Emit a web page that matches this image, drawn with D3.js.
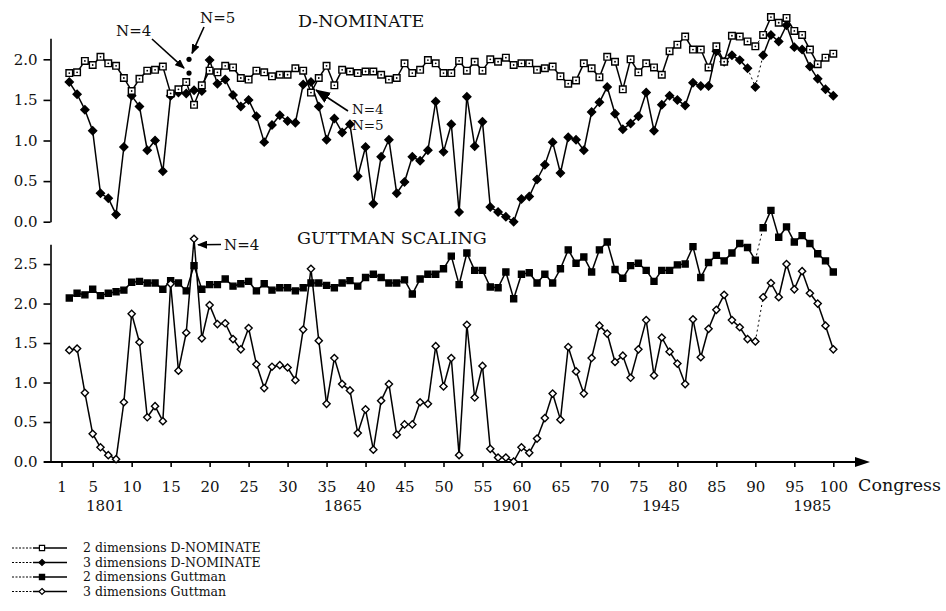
<!DOCTYPE html>
<html>
<head>
<meta charset="utf-8">
<script src="https://cdn.jsdelivr.net/npm/d3@7"></script>
<style>
  body { margin: 0; background: #fff; }
  svg text { font-family: "DejaVu Serif", serif; fill: #111; }
</style>
</head>
<body>
<div id="chart"></div>
<script>
// congresses with a score (one point per congress)
var congress = d3.range(2, 101);

var dnom2 = [1.83, 1.84, 1.98, 1.93, 2.03, 1.95, 1.92, 1.77, 1.61, 1.76,
  1.86, 1.87, 1.91, 1.58, 1.63, 1.72, 1.44, 1.68, 1.86, 1.84,
  1.92, 1.90, 1.77, 1.75, 1.86, 1.84, 1.79, 1.81, 1.81, 1.89,
  1.86, 1.59, 1.77, 1.92, 1.68, 1.87, 1.85, 1.83, 1.85, 1.85,
  1.81, 1.75, 1.77, 1.95, 1.83, 1.87, 1.99, 1.95, 1.83, 1.83,
  1.98, 1.86, 1.97, 1.86, 2.00, 1.97, 2.02, 1.93, 1.95, 1.95,
  1.87, 1.89, 1.91, 1.79, 1.70, 1.74, 1.95, 1.89, 1.78, 2.03,
  1.97, 1.63, 2.00, 1.84, 1.95, 1.90, 1.81, 2.10, 2.18, 2.28,
  2.12, 2.12, 1.90, 2.16, 1.97, 2.29, 2.28, 2.22, 2.16, 2.30,
  2.52, 2.45, 2.51, 2.35, 2.30, 2.12, 1.94, 2.02, 2.07];

var dnom3 = [1.72, 1.57, 1.38, 1.12, 0.35, 0.29, 0.09, 0.92, 1.55, 1.42,
  0.88, 1.00, 0.62, 1.55, 1.59, 1.58, 1.62, 1.61, 1.99, 1.70,
  1.75, 1.56, 1.42, 1.50, 1.30, 0.98, 1.19, 1.31, 1.24, 1.22,
  1.69, 1.72, 1.42, 1.01, 1.27, 1.10, 1.20, 0.56, 0.92, 0.22,
  0.80, 1.01, 0.35, 0.49, 0.80, 0.75, 0.88, 1.48, 0.86, 1.20,
  0.12, 1.54, 0.93, 1.23, 0.18, 0.12, 0.06, 0.00, 0.28, 0.31,
  0.52, 0.70, 0.98, 0.60, 1.04, 1.01, 0.88, 1.35, 1.47, 1.66,
  1.33, 1.14, 1.21, 1.30, 1.59, 1.12, 1.44, 1.55, 1.50, 1.43,
  1.71, 1.67, 1.67, 2.10, 1.97, 2.05, 1.99, 1.89, 1.66, 2.05,
  2.30, 2.22, 2.42, 2.15, 2.12, 1.91, 1.76, 1.63, 1.55];

var gutt2 = [2.07, 2.13, 2.11, 2.18, 2.10, 2.13, 2.15, 2.17, 2.27, 2.28,
  2.26, 2.26, 2.18, 2.29, 2.26, 2.16, 2.48, 2.18, 2.24, 2.24,
  2.31, 2.22, 2.25, 2.28, 2.16, 2.25, 2.17, 2.20, 2.20, 2.16,
  2.20, 2.26, 2.26, 2.23, 2.20, 2.26, 2.29, 2.22, 2.33, 2.37,
  2.33, 2.26, 2.26, 2.30, 2.12, 2.31, 2.37, 2.37, 2.44, 2.60,
  2.24, 2.64, 2.42, 2.42, 2.21, 2.20, 2.40, 2.06, 2.37, 2.39,
  2.26, 2.37, 2.26, 2.44, 2.68, 2.51, 2.59, 2.40, 2.68, 2.78,
  2.43, 2.32, 2.48, 2.51, 2.42, 2.28, 2.42, 2.42, 2.49, 2.50,
  2.72, 2.33, 2.52, 2.61, 2.54, 2.64, 2.76, 2.71, 2.55, 2.96,
  3.18, 2.84, 2.97, 2.78, 2.86, 2.76, 2.63, 2.54, 2.40];

var gutt3 = [1.41, 1.43, 0.87, 0.35, 0.18, 0.08, 0.03, 0.75, 1.87, 1.51,
  0.56, 0.70, 0.51, 2.25, 1.15, 1.63, 2.82, 1.56, 1.98, 1.74,
  1.75, 1.55, 1.42, 1.69, 1.23, 0.93, 1.20, 1.22, 1.19, 1.03,
  1.67, 2.44, 1.53, 0.73, 1.31, 0.98, 0.90, 0.36, 0.66, 0.15,
  0.77, 0.98, 0.34, 0.47, 0.47, 0.75, 0.73, 1.46, 0.95, 1.31,
  0.08, 1.73, 0.81, 1.21, 0.16, 0.05, 0.05, 0.00, 0.18, 0.11,
  0.29, 0.55, 0.86, 0.53, 1.45, 1.14, 0.86, 1.31, 1.72, 1.62,
  1.26, 1.34, 1.06, 1.42, 1.79, 1.09, 1.57, 1.39, 1.24, 0.98,
  1.80, 1.32, 1.68, 1.92, 2.11, 1.79, 1.70, 1.55, 1.52, 2.08,
  2.26, 2.08, 2.50, 2.18, 2.41, 2.13, 2.00, 1.72, 1.42];

// the single points marked N=4 / N=5 in the top panel
var extraCongress = [18, 18];
var extraValues = [1.83, 2.00];

// segments drawn broken (start congress of the segment)
var dashedTop = [89, 90];
var dashedBottom = [90];

var xTicks = [1, 5, 10, 15, 20, 25, 30, 35, 40, 45, 50, 55, 60, 65, 70, 75, 80, 85, 90, 95, 100];
var yTicksTop = [0, 0.5, 1, 1.5, 2];
var yTicksBottom = [0, 0.5, 1, 1.5, 2, 2.5];
var years = ["1801", "1865", "1901", "1945", "1985"];
var yearAt = [6.6, 37.1, 58.7, 77.9, 97.3];

var legendLabels = ["2 dimensions D-NOMINATE", "3 dimensions D-NOMINATE",
  "2 dimensions Guttman", "3 dimensions Guttman"];

var width = 946, height = 611;

var svg = d3.select("#chart").append("svg")
  .attr("width", width)
  .attr("height", height);

var defs = svg.append("defs");
defs.append("marker")
  .attr("id", "axisArrow")
  .attr("markerUnits", "userSpaceOnUse")
  .attr("markerWidth", 15).attr("markerHeight", 10)
  .attr("refX", 1).attr("refY", 5)
  .attr("orient", "auto")
  .append("path").attr("d", "M0,0 L15,5 L0,10 Z").attr("fill", "#000");
defs.append("marker")
  .attr("id", "tip")
  .attr("markerUnits", "userSpaceOnUse")
  .attr("markerWidth", 10).attr("markerHeight", 8)
  .attr("refX", 9).attr("refY", 4)
  .attr("orient", "auto")
  .append("path").attr("d", "M0,0 L10,4 L0,8 Z").attr("fill", "#000");
defs.append("marker")
  .attr("id", "bigTip")
  .attr("markerUnits", "userSpaceOnUse")
  .attr("markerWidth", 15).attr("markerHeight", 12)
  .attr("refX", 14).attr("refY", 6)
  .attr("orient", "auto")
  .append("path").attr("d", "M0,0 L15,6 L0,12 Z").attr("fill", "#000");

var x = d3.scaleLinear().domain([1, 100]).range([61.5, 833.3]);
var yTop = d3.scaleLinear().domain([0, 2.26]).range([221.7, 38.2]);
var yBottom = d3.scaleLinear().domain([0, 2.75]).range([461.5, 244.3]);

function styleAxis(g, size) {
  g.attr("font-family", "DejaVu Serif").attr("font-size", size);
  g.selectAll("line, path").attr("stroke", "#000").attr("stroke-width", 1.6);
  g.selectAll("text").attr("fill", "#111");
}

// y axes
svg.append("g")
  .attr("transform", "translate(50.5,0)")
  .call(d3.axisLeft(yTop).tickValues(yTicksTop).tickFormat(d3.format(".1f"))
    .tickSize(7).tickSizeOuter(0).tickPadding(6))
  .call(styleAxis, 15);

svg.append("g")
  .attr("transform", "translate(50.5,0)")
  .call(d3.axisLeft(yBottom).tickValues(yTicksBottom).tickFormat(d3.format(".1f"))
    .tickSize(7).tickSizeOuter(0).tickPadding(6))
  .call(styleAxis, 15);

// x axis with arrow
var xAxisY = 462;
var xAxis = svg.append("g")
  .attr("transform", "translate(0," + xAxisY + ")")
  .call(d3.axisBottom(x).tickValues(xTicks).tickSize(5).tickSizeOuter(0))
  .call(styleAxis, 15);
xAxis.select(".domain").remove();
xAxis.selectAll("text").attr("y", 19);

svg.append("line")
  .attr("x1", 44).attr("x2", 856)
  .attr("y1", xAxisY).attr("y2", xAxisY)
  .attr("stroke", "#000").attr("stroke-width", 1.8)
  .attr("marker-end", "url(#axisArrow)");

svg.append("text")
  .attr("x", 858).attr("y", 491)
  .attr("font-size", 17.5)
  .text("Congress");

svg.append("g").selectAll("text")
  .data(years)
  .enter()
  .append("text")
  .attr("x", function(d, i) { return x(yearAt[i]); })
  .attr("y", 511)
  .attr("text-anchor", "middle")
  .attr("font-size", 15)
  .text(function(d) { return d; });

// panel titles
svg.append("text").attr("x", 298).attr("y", 27).attr("font-size", 17.5).text("D-NOMINATE");
svg.append("text").attr("x", 297).attr("y", 243.5).attr("font-size", 17.5).text("GUTTMAN SCALING");

function markPath(shape, r) {
  if (shape === "diamond") {
    return "M0," + (-r) + "L" + r + ",0L0," + r + "L" + (-r) + ",0Z";
  }
  return "M" + (-r) + "," + (-r) + "H" + r + "V" + r + "H" + (-r) + "Z";
}

function drawSeries(values, y, shape, filled, r, dashed) {
  var pts = values.map(function(v, i) {
    return { c: congress[i], px: x(congress[i]), py: y(v) };
  });
  var g = svg.append("g");
  g.selectAll("line")
    .data(d3.pairs(pts))
    .enter()
    .append("line")
    .attr("x1", function(d) { return d[0].px; })
    .attr("y1", function(d) { return d[0].py; })
    .attr("x2", function(d) { return d[1].px; })
    .attr("y2", function(d) { return d[1].py; })
    .attr("stroke", "#000")
    .attr("stroke-width", function(d) { return dashed.indexOf(d[0].c) >= 0 ? 1 : 1.5; })
    .attr("stroke-dasharray", function(d) { return dashed.indexOf(d[0].c) >= 0 ? "2,3" : null; });
  g.selectAll("path")
    .data(pts)
    .enter()
    .append("path")
    .attr("transform", function(d) { return "translate(" + d.px + "," + d.py + ")"; })
    .attr("d", markPath(shape, r))
    .attr("fill", filled ? "#000" : "#fff")
    .attr("stroke", "#000")
    .attr("stroke-width", 1.4);
  if (!filled && shape === "square") {
    g.selectAll("circle")
      .data(pts)
      .enter()
      .append("circle")
      .attr("cx", function(d) { return d.px; })
      .attr("cy", function(d) { return d.py; })
      .attr("r", 0.9)
      .attr("fill", "#000");
  }
}

drawSeries(dnom3, yTop, "diamond", true, 4, dashedTop);
drawSeries(dnom2, yTop, "square", false, 3.3, dashedTop);
drawSeries(gutt2, yBottom, "square", true, 3, dashedBottom);
drawSeries(gutt3, yBottom, "diamond", false, 3.6, dashedBottom);

svg.append("g").selectAll("circle")
  .data(extraValues)
  .enter()
  .append("circle")
  .attr("cx", function(d, i) { return x(extraCongress[i]) - 5; })
  .attr("cy", function(d) { return yTop(d); })
  .attr("r", 2.6)
  .attr("fill", "#000");

// annotations
function note(txt, tx, ty, size) {
  svg.append("text").attr("x", tx).attr("y", ty).attr("font-size", size || 15).text(txt);
}
function arrow(x1, y1, x2, y2, head) {
  svg.append("line")
    .attr("x1", x1).attr("y1", y1).attr("x2", x2).attr("y2", y2)
    .attr("stroke", "#000").attr("stroke-width", 1.6)
    .attr("marker-end", "url(#" + head + ")");
}

var nx = x(extraCongress[0]) - 5;
note("N=4", 116, 35.5);
arrow(152, 39, nx - 5, yTop(extraValues[0]) - 5, "tip");
note("N=5", 200, 23);
arrow(204, 27, nx + 3, yTop(extraValues[1]) - 6, "tip");

note("N=4", 352, 113.5, 13.5);
note("N=5", 352, 129.5, 13.5);
arrow(348, 111, 316, 90, "bigTip");

note("N=4", 224, 250);
arrow(221, 244.5, x(18) + 4, yBottom(gutt3[16]) + 6, "tip");

// legend
var legendShapes = ["square", "diamond", "square", "diamond"];
var legendFilled = [false, true, true, false];
var legendRows = [548, 562.5, 577, 591.5];
var legend = svg.append("g");
legendLabels.forEach(function(label, i) {
  var ly = legendRows[i];
  legend.append("line").attr("x1", 12).attr("x2", 33).attr("y1", ly).attr("y2", ly)
    .attr("stroke", "#000").attr("stroke-width", 1).attr("stroke-dasharray", "2,1.5");
  legend.append("line").attr("x1", 33).attr("x2", 67).attr("y1", ly).attr("y2", ly)
    .attr("stroke", "#000").attr("stroke-width", 1.5);
  legend.append("path")
    .attr("transform", "translate(42," + ly + ")")
    .attr("d", markPath(legendShapes[i], legendShapes[i] === "diamond" ? 3 : 2.6))
    .attr("fill", legendFilled[i] ? "#000" : "#fff")
    .attr("stroke", "#000").attr("stroke-width", 1.2);
  legend.append("text")
    .attr("x", 83).attr("y", ly + 4.3)
    .attr("font-size", 12.5)
    .text(label);
});
</script>
</body>
</html>
